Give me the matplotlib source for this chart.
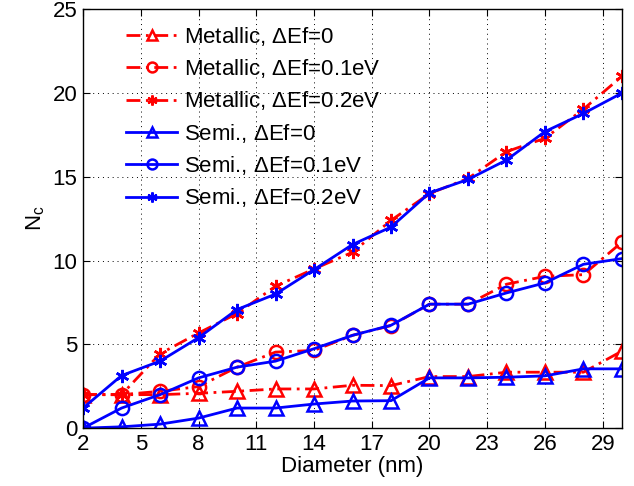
import numpy as np
import matplotlib
matplotlib.use('Agg')
import matplotlib.pyplot as plt

plt.rcParams['font.family'] = ['Liberation Sans', 'DejaVu Sans']
plt.rcParams['mathtext.fontset'] = 'custom'
plt.rcParams['mathtext.rm'] = 'Liberation Sans'
plt.rcParams['mathtext.it'] = 'Liberation Sans'

# diameter (nm)
diameter = [2, 4, 6, 8, 10, 12, 14, 16, 18, 20, 22, 24, 26, 28, 30]

met_0 = [2.0, 2.0, 2.0, 2.08, 2.2, 2.34, 2.34, 2.56, 2.54, 3.08, 3.08, 3.34, 3.34, 3.34, 4.6]
met_01 = [2.0, 2.0, 2.2, 2.48, 3.64, 4.54, 4.64, 5.54, 6.12, 7.4, 7.4, 8.59, 9.06, 9.16, 11.1]
met_02 = [2.0, 2.0, 4.44, 5.68, 6.84, 8.47, 9.5, 10.5, 12.4, 14.0, 14.9, 16.5, 17.3, 19.04, 21.0]
semi_0 = [0.0, 0.08, 0.24, 0.6, 1.2, 1.2, 1.44, 1.62, 1.64, 3.0, 3.0, 3.04, 3.12, 3.54, 3.54]
semi_01 = [0.0, 1.2, 2.0, 3.0, 3.64, 4.0, 4.74, 5.54, 6.14, 7.4, 7.4, 8.07, 8.67, 9.78, 10.12]
semi_02 = [1.2, 3.14, 4.0, 5.4, 7.08, 8.0, 9.46, 10.96, 12.0, 14.04, 14.84, 16.0, 17.7, 18.78, 20.0]

labels = [r'Metallic, $\Delta$Ef=0', r'Metallic, $\Delta$Ef=0.1eV', r'Metallic, $\Delta$Ef=0.2eV',
          r'Semi., $\Delta$Ef=0', r'Semi., $\Delta$Ef=0.1eV', r'Semi., $\Delta$Ef=0.2eV']

star = (6, 2, 0)

fig = plt.figure(figsize=(6.34, 4.86), dpi=100)
ax = fig.add_axes([0.131, 0.119, 0.850, 0.862])

kw = dict(lw=2, markersize=9.5, markeredgewidth=1.8, markerfacecolor='none')
ax.plot(diameter, met_0, color='red', ls=(0, (5, 2, 1, 2)), marker='^', label=labels[0], **kw)
ax.plot(diameter, met_01, color='red', ls=(0, (5, 2, 1, 2)), marker='o', label=labels[1], **kw)
ax.plot(diameter, met_02, color='red', ls=(0, (5, 2, 1, 2)), marker=star, label=labels[2], **kw)
ax.plot(diameter, semi_0, '-', color='blue', marker='^', label=labels[3], **kw)
ax.plot(diameter, semi_01, '-', color='blue', marker='o', label=labels[4], **kw)
ax.plot(diameter, semi_02, '-', color='blue', marker=star, label=labels[5], **kw)

ax.set_xlim(2, 30)
ax.set_ylim(0, 25)
ax.set_xticks(np.arange(2, 30, 3))
ax.set_yticks(np.arange(0, 26, 5))
ax.tick_params(direction='in', top=True, right=True, labelsize=16, length=5, pad=4)
ax.grid(True, ls=(0, (1, 4)), color='black', lw=0.7)
for s in ax.spines.values():
    s.set_linewidth(1.0)

ax.set_xlabel('Diameter (nm)', fontsize=16, labelpad=1)
ax.set_ylabel(r'N$_\mathrm{c}$', fontsize=16, labelpad=4)

ax.legend(loc='upper left', bbox_to_anchor=(0.055, 0.995), frameon=False, fontsize=16,
          handlelength=2.3, handletextpad=0.3, labelspacing=0.42, borderaxespad=0.2,
          markerscale=0.75)

fig.savefig('out.png', dpi=100)
